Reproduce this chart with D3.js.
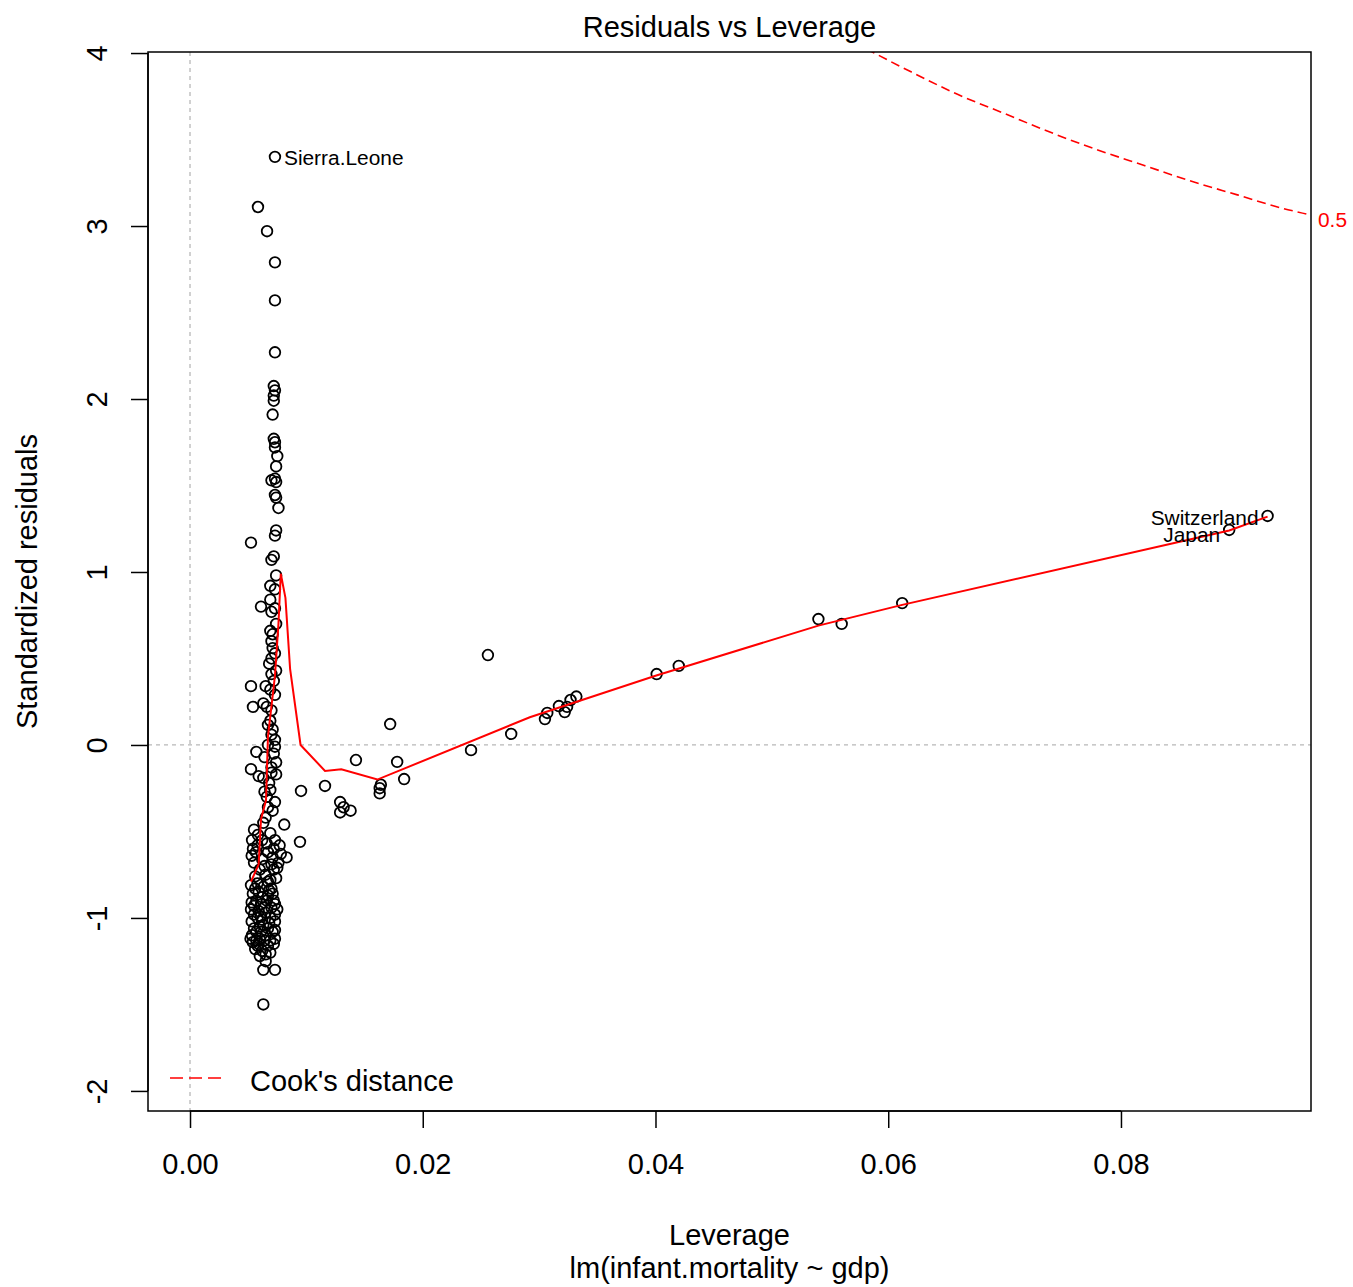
<!DOCTYPE html>
<html><head><meta charset="utf-8">
<script src="https://cdn.jsdelivr.net/npm/d3@7"></script>
<style>body{margin:0;background:#fff}svg{display:block}text{font-family:"Liberation Sans",Arial,sans-serif}</style>
</head><body><svg id="c" width="1353" height="1287"></svg>
<script>
// leverage / standardized residual pairs
const leverage = [
0.0073,0.00584,0.00662,0.0073,0.0073,0.0073,0.0072,0.0073,0.0072,0.0072,0.0071,
0.0072,0.0073,0.0073,0.0075,0.0074,0.0070,0.0074,0.0073,0.0073,0.0074,0.0076,
0.0074,0.0073,0.00524,0.0072,0.0070,0.0074,0.0069,0.0073,0.0061,0.0070,0.0073,
0.0069,0.0071,0.0070,0.0073,0.0070,0.0074,0.0070,0.00524,0.0065,0.0069,0.0073,
0.00541,0.0063,0.0070,0.0067,0.0071,0.0070,0.0073,0.0073,0.0057,0.0064,
0.0074,0.0070,0.00524,0.0059,0.0063,0.0070,0.0074,
0.0064,0.0069,0.0067,0.0073,0.0065,0.0063,0.0081,
0.0055,0.00584,0.00533,0.0069,0.0073,0.0077,
0.00541,0.00567,0.0067,0.0071,0.0083,
0.0062,0.0070,0.0075,0.0065,0.0069,
0.00524,0.0056,0.0059,0.0062,0.0067,0.0072,0.0073,
0.00524,0.0055,0.0058,0.0065,0.0069,0.0073,
0.0063,0.0073,0.00533,0.0057,0.0060,0.0065,0.0069,0.0073,
0.0058,0.0062,0.0065,0.0069,0.0063,0.0073,0.0063,
0.0054,0.0061,0.0066,0.0070,0.0057,0.0053,0.0060,0.0067,0.0071,0.0055,0.0056,0.0060,0.0067,0.0072,0.0054,
0.0064,0.0068,0.0058,0.0063,0.0071,0.0065,0.0061,0.0059,0.0067,0.0072,0.0060,0.0064,0.0055,0.0053,0.0058,
0.0062,0.0066,0.0072,0.0076,0.0078,0.0074,0.0056,
0.0066,0.0071,0.0068,0.0072,0.0067,0.0069,0.0072,0.0068,0.0071,0.0074,0.0069,0.0066,
0.0052,0.0057,0.0061,0.0068,0.0073,0.0055,0.0059,0.0064,0.0070,0.0075,0.0053,0.0062,
0.00954,0.00945,0.0116,0.0129,0.0129,0.0132,0.0138,0.01426,0.0172,0.0164,0.0163,0.0163,0.0178,0.0184,
0.02415,0.0256,0.0276,0.0305,0.0307,0.0317,0.0322,0.0324,0.0327,0.0332,
0.0401,0.0420,0.0540,0.0560,0.0612,0.0893,0.0926];
const stdResid = [
3.40,3.11,2.97,2.79,2.57,2.27,2.075,2.05,2.02,1.99,1.91,
1.77,1.75,1.72,1.67,1.61,1.53,1.52,1.54,1.445,1.43,1.37,
1.24,1.21,1.17,1.09,1.07,0.98,0.92,0.90,0.80,0.77,0.79,
0.66,0.64,0.60,0.53,0.50,0.43,0.41,0.34,0.34,0.32,0.29,
0.22,0.24,0.20,0.116,0.09,0.06,0.03,-0.01,-0.04,-0.07,
-0.10,-0.13,-0.14,-0.18,-0.19,-0.16,-0.17,
-0.27,-0.26,-0.36,-0.33,-0.42,-0.45,-0.46,
-0.49,-0.52,-0.55,-0.51,-0.55,-0.58,
-0.60,-0.62,-0.62,-0.65,-0.65,
-0.66,-0.69,-0.71,-0.75,-0.78,
-0.81,-0.83,-0.85,-0.88,-0.87,-0.90,-0.92,
-0.95,-0.98,-1.00,-0.97,-1.00,-0.98,
-1.04,-1.02,-1.10,-1.13,-1.12,-1.10,-1.13,-1.12,
-1.16,-1.19,-1.21,-1.20,-1.30,-1.30,-1.50,
-0.86,-0.92,-0.90,-0.94,-0.90,-1.02,-1.05,-1.06,-1.08,-1.06,-1.18,-1.22,-1.16,-1.15,-1.14,
-0.94,-0.84,-0.80,-0.82,-0.86,-1.25,-1.08,-0.96,-0.79,-0.72,-0.72,-0.70,-0.68,-0.64,-0.58,
-0.55,-0.57,-0.60,-0.68,-0.63,-0.77,-0.76,
-0.30,-0.38,-0.22,-0.05,0.00,0.14,0.37,0.47,0.56,0.70,0.84,0.22,
-1.12,-1.08,-0.99,-1.03,-1.07,-0.93,-1.15,-1.13,-0.83,-0.95,-0.91,-1.01,
-0.266,-0.56,-0.237,-0.33,-0.39,-0.36,-0.38,-0.087,0.121,-0.23,-0.25,-0.28,-0.098,-0.197,
-0.03,0.52,0.064,0.15,0.185,0.225,0.19,0.22,0.26,0.28,
0.41,0.457,0.728,0.70,0.82,1.243,1.324];
// labelled points
const idNames = ["Sierra.Leone","Switzerland","Japan"];
const idLev = [0.0073,0.0926,0.0893];
const idRes = [3.40,1.324,1.243];
// loess smooth (red line)
const smoothLev = [0.00524,0.0059,0.0061,0.00653,0.0067,0.0073,0.0076,0.0078,0.0082,0.0086,0.0095,0.0116,0.0130,0.0161,0.0292,0.0400,0.0540,0.0612,0.0893,0.0926];
const smoothRes = [-0.79,-0.69,-0.43,-0.32,0.05,0.40,0.70,0.99,0.85,0.44,0.0,-0.15,-0.14,-0.20,0.16,0.40,0.69,0.81,1.24,1.32];
// Cook's distance 0.5 contour
const cookLev = [0.0560,0.0588,0.062,0.066,0.070,0.074,0.078,0.082,0.086,0.090,0.094,0.0962,0.098];
const cookRes = [4.10,4.00,3.89,3.76,3.65,3.54,3.44,3.35,3.26,3.18,3.10,3.065,3.03];
const xTicks = [0.00,0.02,0.04,0.06,0.08];
const xTickLabels = ["0.00","0.02","0.04","0.06","0.08"];
const yTicks = [-2,-1,0,1,2,3,4];
const yTickLabels = ["-2","-1","0","1","2","3","4"];

const svg = d3.select("#c");
const L=148,R=1311,T=52,B=1111;
const x = d3.scaleLinear().domain([-0.00361,0.09633]).range([L,R]);
const y = d3.scaleLinear().domain([-2.116,4.006]).range([B,T]);
const FS=29;

svg.append("defs").append("clipPath").attr("id","clip").append("rect")
  .attr("x",L).attr("y",T).attr("width",R-L).attr("height",B-T);

// reference lines
svg.append("line").attr("x1",x(0)).attr("x2",x(0)).attr("y1",T).attr("y2",B)
  .attr("stroke","#b8b8b8").attr("stroke-width",1.3).attr("stroke-dasharray","4,4");
svg.append("line").attr("x1",L).attr("x2",R).attr("y1",y(0)).attr("y2",y(0))
  .attr("stroke","#b8b8b8").attr("stroke-width",1.3).attr("stroke-dasharray","4,4");

// points
const pts = leverage.map((h,i)=>({h, r: stdResid[i]}));
svg.append("g").selectAll("circle").data(pts).join("circle")
  .attr("cx",d=>x(d.h)).attr("cy",d=>y(d.r)).attr("r",5.3)
  .attr("fill","none").attr("stroke","#000").attr("stroke-width",1.8);

// smooth
svg.append("path").datum(smoothLev.map((h,i)=>[h,smoothRes[i]]))
  .attr("d",d3.line().x(d=>x(d[0])).y(d=>y(d[1])))
  .attr("fill","none").attr("stroke","#ff0000").attr("stroke-width",2);

// cook's
svg.append("path").datum(cookLev.map((h,i)=>[h,cookRes[i]]))
  .attr("clip-path","url(#clip)")
  .attr("d",d3.line().curve(d3.curveMonotoneX).x(d=>x(d[0])).y(d=>y(d[1])))
  .attr("fill","none").attr("stroke","#ff0000").attr("stroke-width",1.6).attr("stroke-dasharray","9,5");
svg.append("text").attr("x",R+7).attr("y",y(3.065)+12).attr("fill","#ff0000")
  .attr("font-size",FS*0.72).text("0.5");

// id labels
svg.append("text").attr("x",x(idLev[0])+9).attr("y",y(idRes[0])+8).attr("font-size",FS*0.72).text(idNames[0]);
svg.append("text").attr("x",x(idLev[1])-9).attr("y",y(idRes[1])+9).attr("text-anchor","end").attr("font-size",FS*0.72).text(idNames[1]);
svg.append("text").attr("x",x(idLev[2])-9).attr("y",y(idRes[2])+12).attr("text-anchor","end").attr("font-size",FS*0.72).text(idNames[2]);

// box
svg.append("rect").attr("x",L).attr("y",T).attr("width",R-L).attr("height",B-T)
  .attr("fill","none").attr("stroke","#000").attr("stroke-width",1.5);

// x axis
const xa = svg.append("g").attr("transform",`translate(0,${B})`)
  .call(d3.axisBottom(x).tickValues(xTicks).tickSize(17).tickPadding(25).tickFormat((d,i)=>xTickLabels[i]));
xa.select(".domain").attr("d",`M${x(xTicks[0])},0H${x(xTicks[xTicks.length-1])}`).attr("stroke-width",1.5);
xa.selectAll(".tick line").attr("stroke-width",1.5);
xa.selectAll("text").attr("font-size",FS).attr("font-family","Liberation Sans, Arial, sans-serif");

// y axis
const ya = svg.append("g").attr("transform",`translate(${L},0)`)
  .call(d3.axisLeft(y).tickValues(yTicks).tickSize(17).tickFormat((d,i)=>yTickLabels[i]));
ya.select(".domain").attr("d",`M0,${y(yTicks[0])}V${y(yTicks[yTicks.length-1])}`).attr("stroke-width",1.5);
ya.selectAll(".tick line").attr("stroke-width",1.5);
ya.selectAll("text").attr("font-size",FS).attr("font-family","Liberation Sans, Arial, sans-serif")
  .attr("x",0).attr("dy",null).attr("text-anchor","middle")
  .attr("transform","translate(-51,0) rotate(-90)").attr("dy","0.35em");

// titles
svg.append("text").attr("x",(L+R)/2).attr("y",37).attr("text-anchor","middle").attr("font-size",FS).text("Residuals vs Leverage");
svg.append("text").attr("x",(L+R)/2).attr("y",1245).attr("text-anchor","middle").attr("font-size",FS).text("Leverage");
svg.append("text").attr("x",(L+R)/2).attr("y",1278).attr("text-anchor","middle").attr("font-size",FS).text("lm(infant.mortality ~ gdp)");
svg.append("text").attr("transform",`translate(37,${(T+B)/2}) rotate(-90)`).attr("text-anchor","middle").attr("font-size",FS).text("Standardized residuals");

// legend
svg.append("line").attr("x1",170).attr("x2",222).attr("y1",1078).attr("y2",1078)
  .attr("stroke","#ff0000").attr("stroke-width",1.6).attr("stroke-dasharray","13,6");
svg.append("text").attr("x",250).attr("y",1091).attr("font-size",FS).text("Cook's distance");
</script></body></html>
